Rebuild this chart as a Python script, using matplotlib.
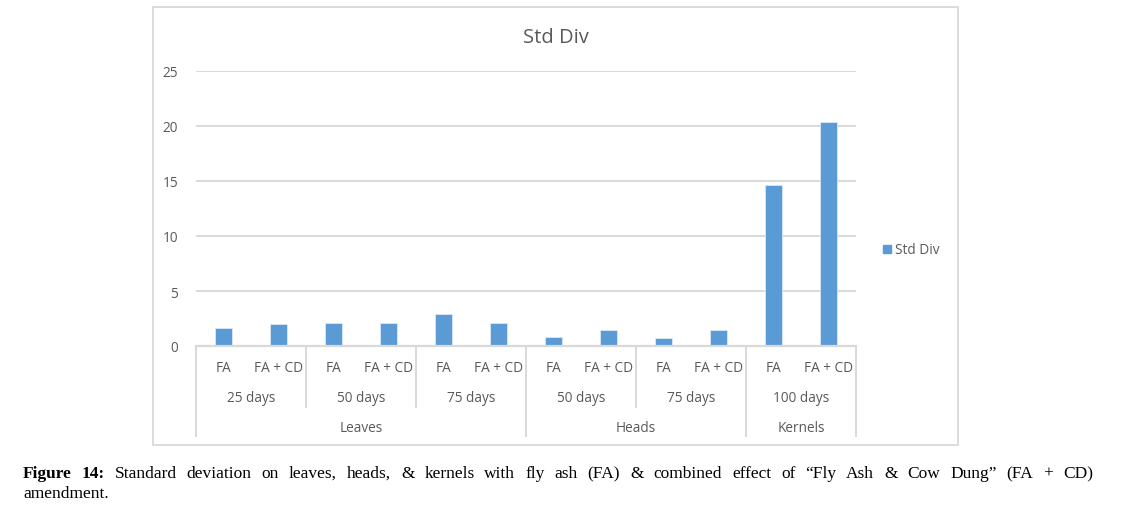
import matplotlib
matplotlib.use("Agg")
import matplotlib.pyplot as plt
from matplotlib.patches import Rectangle
from matplotlib.transforms import blended_transform_factory

# ---- data ----
treatments = ["FA", "FA + CD"] * 6
days = ["25 days", "50 days", "75 days", "50 days", "75 days", "100 days"]
groups = ["Leaves", "Heads", "Kernels"]
group_sizes = [3, 2, 1]  # number of day-groups per organ
values = [1.6, 2.0, 2.07, 2.07, 2.87, 2.07, 0.78, 1.48, 0.72, 1.45, 14.63, 20.4]
yticks = [0, 5, 10, 15, 20, 25]
series_name = "Std Div"
title = "Std Div"

W, H = 1127, 510
fig = plt.figure(figsize=(W / 100, H / 100), dpi=100)
fig.patch.set_facecolor("white")

GRID = "#d9d9d9"
TXT = "#595959"
BLUE = "#5b9bd5"
FONT = ["Open Sans", "DejaVu Sans"]

# chart border
fig.patches.append(Rectangle((153 / W, 1 - 446 / H), (958 - 153) / W, (446 - 8) / H,
                             transform=fig.transFigure, fill=False,
                             edgecolor=GRID, linewidth=1.3))

ax_l, ax_r, ax_t, ax_b = 196, 856, 72, 347
ax = fig.add_axes([ax_l / W, 1 - ax_b / H, (ax_r - ax_l) / W, (ax_b - ax_t) / H])
n = len(values)
x = list(range(n))
bars = ax.bar(x, values, width=0.31, color=BLUE, edgecolor="#dbe8f5", linewidth=0.6,
              label=series_name, zorder=3)
ax.set_xlim(-0.5, n - 0.5)
ax.set_ylim(0, 25)
ax.set_yticks(yticks)
ax.set_yticklabels([str(v) for v in yticks], fontfamily=FONT, fontsize=9.8, color=TXT)
ax.tick_params(axis="y", length=0, pad=13)
ax.tick_params(axis="x", length=0, labelbottom=False)
for s in ax.spines.values():
    s.set_visible(False)
ax.yaxis.grid(True, color=GRID, linewidth=1.4, zorder=0)
ax.set_axisbelow(True)
ax.set_facecolor("none")

ph = ax_b - ax_t
def fy(py):
    return (ax_b - py) / ph

tr = blended_transform_factory(ax.transData, ax.transAxes)
# axis baseline
ax.plot([-0.5, n - 0.5], [0, 0], transform=tr, color=GRID, lw=1.6, clip_on=False, zorder=4)

# level 1 labels
for i, t in enumerate(treatments):
    ax.text(i, fy(369), t, transform=tr, ha="center", va="center",
            fontfamily=FONT, fontsize=9.8, color=TXT)
# level 2 labels
for j, d in enumerate(days):
    ax.text(2 * j + 0.5, fy(399), d, transform=tr, ha="center", va="center",
            fontfamily=FONT, fontsize=9.8, color=TXT)
# level 3 labels and separators
start = 0
group_bounds = [0]
for g, sz in zip(groups, group_sizes):
    c0 = start * 2
    c1 = (start + sz) * 2
    ax.text((c0 + c1 - 1) / 2, fy(429), g, transform=tr, ha="center", va="center",
            fontfamily=FONT, fontsize=9.8, color=TXT)
    start += sz
    group_bounds.append(c1)
gb = [b - 0.5 for b in group_bounds]
for j in range(len(days) + 1):
    xb = 2 * j - 0.5
    bottom = fy(437) if xb in gb else fy(408)
    ax.plot([xb, xb], [0, bottom], transform=tr, color=GRID, lw=1.4,
            clip_on=False, zorder=4)

# title
fig.text(556 / W, 1 - 38 / H, title, ha="center", va="center",
         fontfamily=FONT, fontsize=14.5, color=TXT)

# legend
fig.patches.append(Rectangle((883 / W, 1 - 254 / H), 8 / W, 8 / H,
                             transform=fig.transFigure, color=BLUE))
fig.text(895 / W, 1 - 251 / H, series_name, ha="left", va="center",
         fontfamily=FONT, fontsize=9.8, color=TXT)

# caption (justified first line)
fig.canvas.draw()
renderer = fig.canvas.get_renderer()
cap_words = [("Figure", True), ("14:", True)] + [(w, False) for w in
             "Standard deviation on leaves, heads, & kernels with fly ash (FA) & combined effect of “Fly Ash & Cow Dung” (FA + CD)".split()]
CAPFONT = ["Liberation Serif", "DejaVu Serif"]
cap_size = 12.5
x0, x1 = 23, 1093
base1 = 1 - 478 / H
texts = []
total = 0
for w, b in cap_words:
    t = fig.text(0, base1, w, ha="left", va="baseline", fontfamily=CAPFONT,
                 fontsize=cap_size, fontweight="bold" if b else "normal", color="black")
    bb = t.get_window_extent(renderer)
    texts.append((t, bb.width))
    total += bb.width
gap = (x1 - x0 - total) / (len(texts) - 1)
cx = x0
for t, wd in texts:
    t.set_x(cx / W)
    cx += wd + gap
fig.text(x0 / W, 1 - 498 / H, "amendment.", ha="left", va="baseline",
         fontfamily=CAPFONT, fontsize=cap_size, color="black")

fig.savefig("out.png", dpi=100)
